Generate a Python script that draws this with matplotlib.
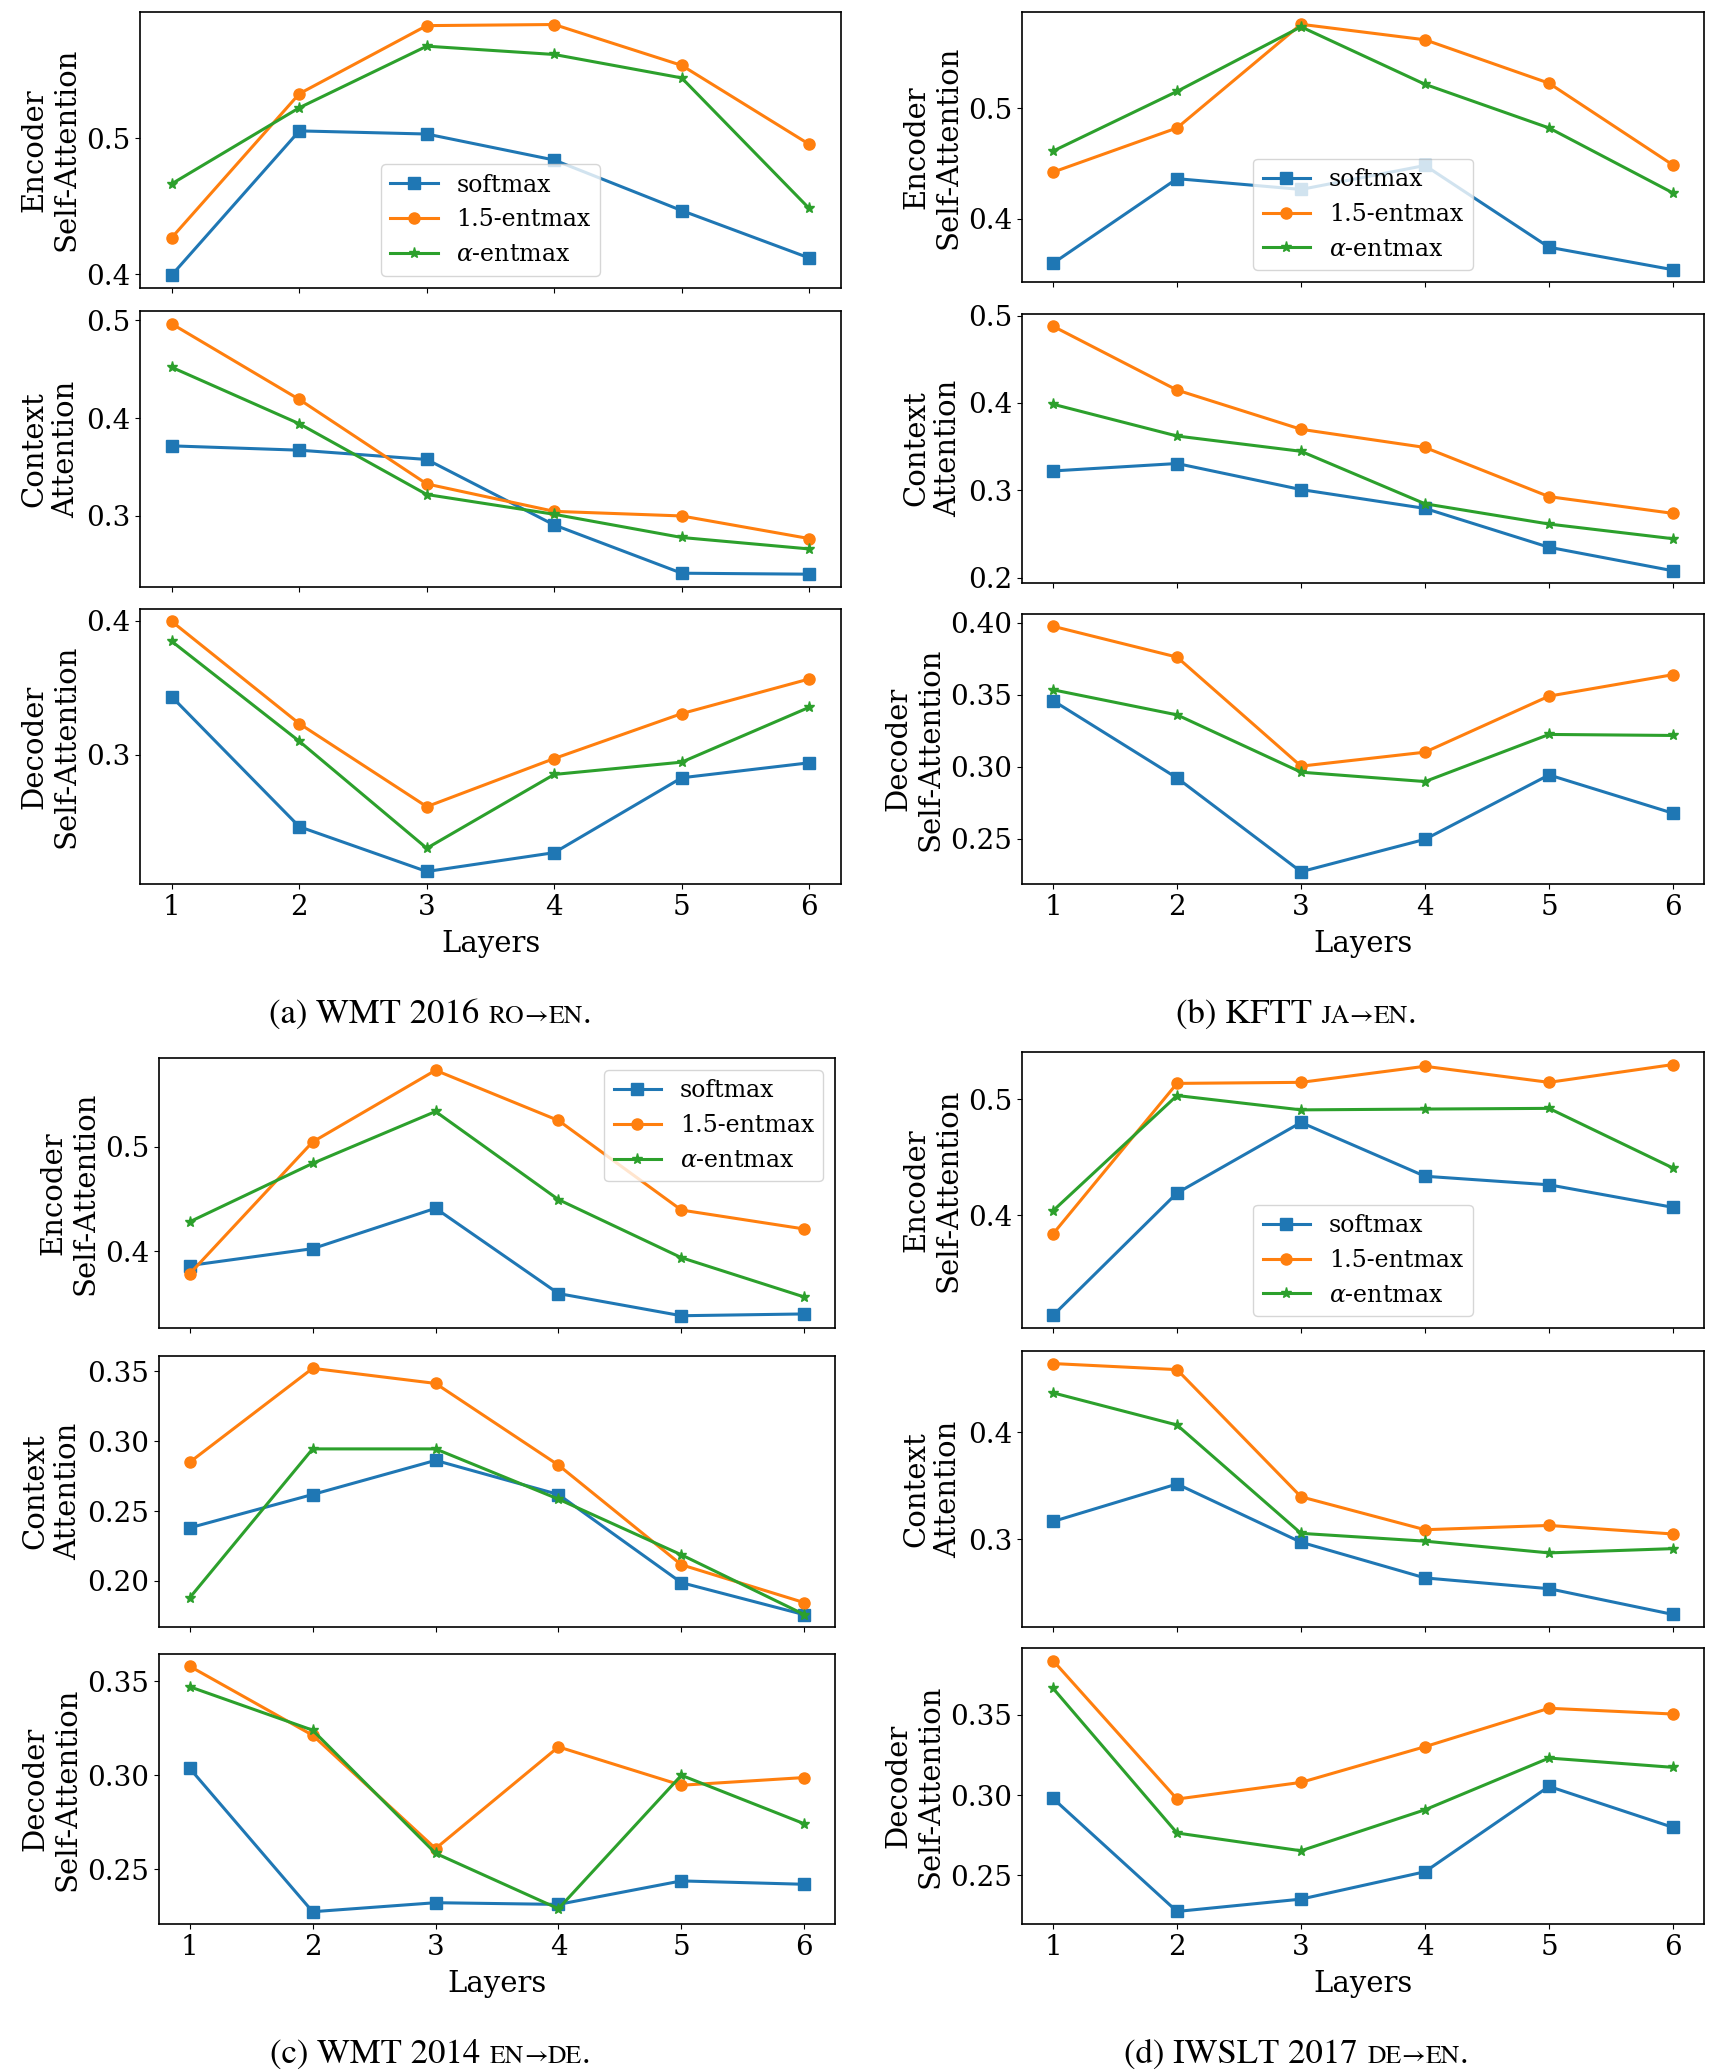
import matplotlib.pyplot as plt
from matplotlib.offsetbox import TextArea, HPacker, AnchoredOffsetbox

plt.rcParams['font.family'] = ['DejaVu Serif']
plt.rcParams['mathtext.fontset'] = 'dejavuserif'
plt.rcParams['axes.linewidth'] = 1.2

layers = [1, 2, 3, 4, 5, 6]
series_names = ["softmax", "1.5-entmax", r"$\alpha$-entmax"]
row_labels = ["Encoder\nSelf-Attention", "Context\nAttention", "Decoder\nSelf-Attention"]

# (a) WMT 2016 RO->EN   [softmax, 1.5-entmax, alpha-entmax]
roen_enc = [[0.3995, 0.5053, 0.503, 0.4839, 0.4468, 0.412],
            [0.427, 0.5326, 0.5826, 0.5834, 0.5534, 0.4955],
            [0.4665, 0.5223, 0.5675, 0.5614, 0.5442, 0.4484]]
roen_ctx = [[0.3716, 0.3672, 0.3577, 0.2908, 0.2415, 0.2405],
            [0.4962, 0.419, 0.3327, 0.3047, 0.300, 0.2769],
            [0.4518, 0.3942, 0.3219, 0.3017, 0.278, 0.2663]]
roen_dec = [[0.3431, 0.246, 0.2125, 0.2266, 0.2826, 0.2938],
            [0.3995, 0.3231, 0.261, 0.297, 0.3306, 0.3565],
            [0.3846, 0.3099, 0.2299, 0.2851, 0.2943, 0.3353]]

# (b) KFTT JA->EN
jaen_enc = [[0.36, 0.4364, 0.4267, 0.4483, 0.3745, 0.3542],
            [0.4423, 0.4822, 0.5758, 0.5618, 0.5226, 0.4487],
            [0.4613, 0.5152, 0.5735, 0.5216, 0.4822, 0.4235]]
jaen_ctx = [[0.3221, 0.3306, 0.3008, 0.2792, 0.2347, 0.2078],
            [0.4878, 0.4147, 0.3698, 0.349, 0.2927, 0.2735],
            [0.3985, 0.3621, 0.3446, 0.2845, 0.2613, 0.2445]]
jaen_dec = [[0.3458, 0.2921, 0.227, 0.2495, 0.2942, 0.2676],
            [0.3974, 0.376, 0.3003, 0.31, 0.3489, 0.3638],
            [0.3533, 0.3359, 0.2961, 0.2896, 0.3223, 0.3216]]

# (c) WMT 2014 EN->DE
ende_enc = [[0.3863, 0.4024, 0.441, 0.3595, 0.3383, 0.34],
            [0.3784, 0.5044, 0.5729, 0.5249, 0.4393, 0.4212],
            [0.4281, 0.4839, 0.5335, 0.4493, 0.3938, 0.3562]]
ende_ctx = [[0.238, 0.2618, 0.2862, 0.2618, 0.1988, 0.1759],
            [0.2849, 0.352, 0.3412, 0.2828, 0.2116, 0.1845],
            [0.188, 0.2944, 0.2944, 0.2585, 0.2187, 0.176]]
ende_dec = [[0.3037, 0.2274, 0.2322, 0.2313, 0.2438, 0.242],
            [0.358, 0.3213, 0.261, 0.3151, 0.2947, 0.2988],
            [0.3471, 0.324, 0.2585, 0.229, 0.30, 0.2742]]

# (d) IWSLT 2017 DE->EN
deen_enc = [[0.3132, 0.4191, 0.4801, 0.4336, 0.4262, 0.4067],
            [0.3837, 0.5139, 0.5148, 0.5287, 0.5148, 0.5302],
            [0.4037, 0.5034, 0.491, 0.4917, 0.4923, 0.4407]]
deen_ctx = [[0.3167, 0.3518, 0.2973, 0.2639, 0.2538, 0.2297],
            [0.4645, 0.4588, 0.3398, 0.309, 0.313, 0.305],
            [0.4371, 0.407, 0.3056, 0.2983, 0.2873, 0.2913]]
deen_dec = [[0.2979, 0.2273, 0.235, 0.2521, 0.3054, 0.2798],
            [0.384, 0.2975, 0.3079, 0.3302, 0.3542, 0.3506],
            [0.3667, 0.2763, 0.2652, 0.2908, 0.3231, 0.3173]]

yticks_roen = [[0.4, 0.5], [0.3, 0.4, 0.5], [0.3, 0.4]]
yticks_jaen = [[0.4, 0.5], [0.2, 0.3, 0.4, 0.5], [0.25, 0.30, 0.35, 0.40]]
yticks_ende = [[0.4, 0.5], [0.20, 0.25, 0.30, 0.35], [0.25, 0.30, 0.35]]
yticks_deen = [[0.4, 0.5], [0.3, 0.4], [0.25, 0.30, 0.35]]

# caption: main text, language pair (small caps)
captions = [("(a) WMT 2016", "RO", "EN"), ("(b) KFTT", "JA", "EN"),
            ("(c) WMT 2014", "EN", "DE"), ("(d) IWSLT 2017", "DE", "EN")]

panels = [
    ([roen_enc, roen_ctx, roen_dec], yticks_roen, "lower center"),
    ([jaen_enc, jaen_ctx, jaen_dec], yticks_jaen, "lower center"),
    ([ende_enc, ende_ctx, ende_dec], yticks_ende, "upper right"),
    ([deen_enc, deen_ctx, deen_dec], yticks_deen, "lower center"),
]

W, H = 1717, 2072
# axes boxes in pixels: (left, right, [(top, bottom) x3])
boxes = [
    (140, 841, [(12, 287.5), (311.4, 586.7), (609, 884)]),
    (1022, 1704, [(12, 282), (314, 583), (614, 884)]),
    (159, 835, [(1058, 1328), (1356, 1627), (1654, 1924)]),
    (1022, 1704, [(1052, 1328), (1351, 1627), (1648, 1924)]),
]
caption_pos = [(430, 1015), (1296, 1015), (430, 2055), (1296, 2055)]

colors = ["tab:blue", "tab:orange", "tab:green"]
markers = ["s", "o", "*"]

fig = plt.figure(figsize=(W / 100, H / 100), dpi=100)

for p, (rows, yticks, legloc) in enumerate(panels):
    left, right, ys = boxes[p]
    for r, data in enumerate(rows):
        top, bottom = ys[r]
        ax = fig.add_axes([left / W, 1 - bottom / H, (right - left) / W, (bottom - top) / H])
        for s in range(3):
            ax.plot(layers, data[s], color=colors[s], marker=markers[s],
                    markersize=8, linewidth=2.2, label=series_names[s])
        ax.set_xticks(layers)
        ax.set_yticks(yticks[r])
        ax.tick_params(labelsize=20)
        ax.set_ylabel(row_labels[r], fontsize=21)
        if r < 2:
            ax.tick_params(labelbottom=False)
        else:
            ax.set_xlabel("Layers", fontsize=21, labelpad=7)
        if r == 0:
            ax.legend(loc=legloc, fontsize=17)

    # caption with small caps language pair
    main, src, tgt = captions[p]
    fam = ['STIXGeneral', 'Liberation Serif', 'DejaVu Serif']
    t_main = TextArea(main, textprops=dict(fontsize=25, family=fam))
    t_src = TextArea(src, textprops=dict(fontsize=18.5, family=fam))
    t_arr = TextArea("\u2192", textprops=dict(fontsize=18.5, family=fam))
    t_tgt = TextArea(tgt, textprops=dict(fontsize=18.5, family=fam))
    t_dot = TextArea(".", textprops=dict(fontsize=25, family=fam))
    pair = HPacker(children=[t_src, t_arr, t_tgt, t_dot], sep=0, pad=0, align="baseline")
    box = HPacker(children=[t_main, pair], sep=7, pad=0, align="baseline")
    cx, cy = caption_pos[p]
    anchored = AnchoredOffsetbox(loc="center", child=box, pad=0, frameon=False,
                                 bbox_to_anchor=(cx / W, 1 - cy / H),
                                 bbox_transform=fig.transFigure, borderpad=0)
    fig.add_artist(anchored)

plt.savefig("out.png", dpi=100)
